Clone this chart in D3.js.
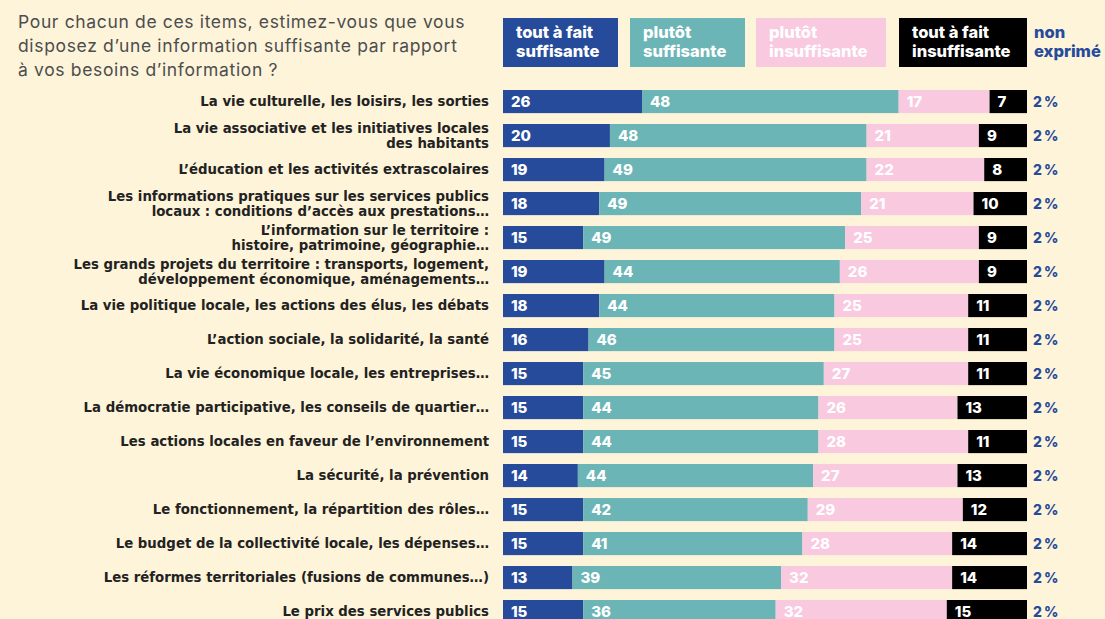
<!DOCTYPE html>
<html>
<head>
<meta charset="utf-8">
<script src="https://cdn.jsdelivr.net/npm/d3@7"></script>
<style>
  html, body { margin: 0; padding: 0; background: #fef4da; overflow: hidden; }
  svg { display: block; }
</style>
</head>
<body>
<svg id="chart"></svg>
<script>
(() => {
// data
let items = [
  ['La vie culturelle, les loisirs, les sorties'],
  ['La vie associative et les initiatives locales', 'des habitants'],
  ['L\u2019éducation et les activités extrascolaires'],
  ['Les informations pratiques sur les services publics', 'locaux : conditions d\u2019accès aux prestations\u2026'],
  ['L\u2019information sur le territoire :', 'histoire, patrimoine, géographie\u2026'],
  ['Les grands projets du territoire : transports, logement,', 'développement économique, aménagements\u2026'],
  ['La vie politique locale, les actions des élus, les débats'],
  ['L\u2019action sociale, la solidarité, la santé'],
  ['La vie économique locale, les entreprises\u2026'],
  ['La démocratie participative, les conseils de quartier\u2026'],
  ['Les actions locales en faveur de l\u2019environnement'],
  ['La sécurité, la prévention'],
  ['Le fonctionnement, la répartition des rôles\u2026'],
  ['Le budget de la collectivité locale, les dépenses\u2026'],
  ['Les réformes territoriales (fusions de communes\u2026)'],
  ['Le prix des services publics']
];
let toutSuff   = [26, 20, 19, 18, 15, 19, 18, 16, 15, 15, 15, 14, 15, 15, 13, 15];
let plutotSuff = [48, 48, 49, 49, 49, 44, 44, 46, 45, 44, 44, 44, 42, 41, 39, 36];
let plutotInsf = [17, 21, 22, 21, 25, 26, 25, 25, 27, 26, 28, 27, 29, 28, 32, 32];
let toutInsf   = [7, 9, 8, 10, 9, 9, 11, 11, 11, 13, 11, 13, 12, 14, 14, 15];
let nonExprime = [2, 2, 2, 2, 2, 2, 2, 2, 2, 2, 2, 2, 2, 2, 2, 2];

let seriesNames = [
  ['tout à fait', 'suffisante'],
  ['plutôt', 'suffisante'],
  ['plutôt', 'insuffisante'],
  ['tout à fait', 'insuffisante']
];
let nonExprimeLabel = ['non', 'exprimé'];
let question = [
  'Pour chacun de ces items, estimez-vous que vous',
  'disposez d\u2019une information suffisante par rapport',
  'à vos besoins d\u2019information ?'
];

// layout
let svgWidth = 1105,
    svgHeight = 619,
    barLeft = 503,
    barRight = 1027,
    firstRow = 90,
    rowStep = 34,
    rowPad = 0.32,
    labelRight = 489,
    colors = ['#264b9b', '#6bb5b6', '#f9c9df', '#000000'],
    blue = '#264b9b',
    legendX = [503, 630, 756, 899],
    legendW = [115, 115, 130, 128];

let series = [toutSuff, plutotSuff, plutotInsf, toutInsf];
let rows = items.map((lines, i) => {
  let x0 = 0;
  let segs = series.map((s, k) => {
    let seg = { k: k, v: s[i], x0: x0, x1: x0 + s[i] };
    x0 += s[i];
    return seg;
  });
  return { i: i, lines: lines, segs: segs, ne: nonExprime[i], total: x0 };
});

let svg = d3.select('#chart')
    .attr('width', svgWidth)
    .attr('height', svgHeight);

let xScale = d3.scaleLinear()
    .domain([0, d3.max(rows, r => r.total)])
    .range([barLeft, barRight]);

let yScale = d3.scaleBand()
    .domain(d3.range(items.length))
    .range([firstRow, firstRow + rowStep * (items.length - rowPad)])
    .paddingInner(rowPad)
    .paddingOuter(0);

// question
svg.append('text')
    .attr('font-family', 'Inter, sans-serif')
    .attr('font-size', 17.5)
    .attr('letter-spacing', 0.65)
    .attr('fill', '#4d4d4d')
    .selectAll('tspan')
    .data(question)
    .enter()
    .append('tspan')
    .attr('x', 18)
    .attr('y', (d, i) => 28 + i * 24)
    .text(d => d);

// legend
let legend = svg.selectAll('.legend')
    .data(seriesNames)
    .enter()
    .append('g')
    .attr('transform', (d, i) => `translate(${legendX[i]},18)`);

legend.append('rect')
    .attr('width', (d, i) => legendW[i])
    .attr('height', 49)
    .attr('fill', (d, i) => colors[i]);

legend.append('text')
    .attr('font-family', 'Inter, sans-serif')
    .attr('font-weight', 800)
    .attr('font-size', 16.5)
    .attr('fill', '#fff')
    .selectAll('tspan')
    .data(d => d)
    .enter()
    .append('tspan')
    .attr('x', 13)
    .attr('y', (d, i) => 20 + i * 19)
    .text(d => d);

svg.append('text')
    .attr('font-family', 'Inter, sans-serif')
    .attr('font-weight', 800)
    .attr('font-size', 16.5)
    .attr('fill', blue)
    .selectAll('tspan')
    .data(nonExprimeLabel)
    .enter()
    .append('tspan')
    .attr('x', 1034)
    .attr('y', (d, i) => 38 + i * 19)
    .text(d => d);

// rows
let row = svg.selectAll('.row')
    .data(rows)
    .enter()
    .append('g')
    .attr('class', 'row')
    .attr('transform', d => `translate(0,${yScale(d.i)})`);

let bh = yScale.bandwidth();

row.append('text')
    .attr('font-family', '"DejaVu Sans", sans-serif')
    .attr('font-weight', 700)
    .attr('font-size', 13.3)
    .attr('fill', '#222')
    .attr('text-anchor', 'end')
    .selectAll('tspan')
    .data(d => d.lines.map((l, j) => ({ l: l, j: j, n: d.lines.length })))
    .enter()
    .append('tspan')
    .attr('x', labelRight)
    .attr('y', d => bh / 2 + 4.8 + (d.j - (d.n - 1) / 2) * 15.5)
    .text(d => d.l);

let seg = row.selectAll('.seg')
    .data(d => d.segs)
    .enter()
    .append('g');

seg.append('rect')
    .attr('x', d => xScale(d.x0))
    .attr('width', d => xScale(d.x1) - xScale(d.x0))
    .attr('height', bh)
    .attr('fill', d => colors[d.k]);

seg.append('text')
    .attr('x', d => xScale(d.x0) + 8)
    .attr('y', bh / 2 + 5.5)
    .attr('font-family', 'Inter, sans-serif')
    .attr('font-weight', 800)
    .attr('font-size', 15)
    .attr('fill', '#fff')
    .text(d => d.v);

row.append('text')
    .attr('x', barRight + 6)
    .attr('y', bh / 2 + 5.5)
    .attr('font-family', 'Inter, sans-serif')
    .attr('font-weight', 800)
    .attr('font-size', 14)
    .attr('fill', blue)
    .text(d => d.ne + '\u2009%');
})();
</script>
</body>
</html>
